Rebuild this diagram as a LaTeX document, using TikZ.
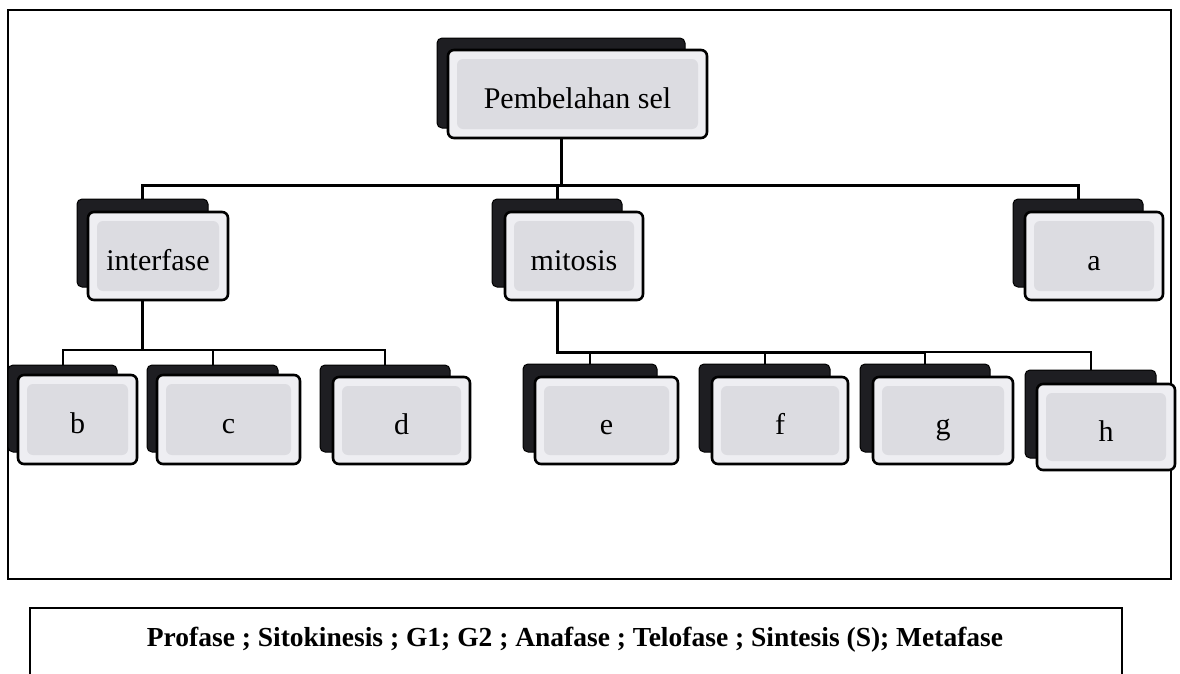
\documentclass[tikz,border=0pt]{standalone}
\usepackage{fontspec}
\setmainfont{Liberation Serif}
\definecolor{shadowc}{HTML}{1E1E22}
\definecolor{outerc}{HTML}{EEEEF2}
\definecolor{innerc}{HTML}{DCDCE1}
\tikzset{
  shadowbox/.style={draw=black, line width=1pt, fill=shadowc, rounded corners=5pt, inner sep=0pt, outer sep=0pt},
  frontbox/.style={draw=black, line width=2.6pt, fill=outerc, rounded corners=6pt, inner sep=0pt, outer sep=0pt,
    font=\fontsize{30}{32}\selectfont, text height=28pt, text depth=0pt,
    path picture={\fill[innerc] ([shift={(9pt,-9pt)}]path picture bounding box.north west) rectangle ([shift={(-9pt,9pt)}]path picture bounding box.south east);}},
  conn/.style={line width=3pt},
  thinconn/.style={line width=2pt},
  frame/.style={line width=2pt},
  legend/.style={font=\bfseries\fontsize{27.5}{30}\selectfont, inner sep=0pt},
}
\newcommand\cellbox[7]{\node[#6, minimum width={(#4-#2)*1pt}, minimum height={(#5-#3)*1pt}] (#1) at ({(#2+#4)/2},{(#3+#5)/2}) {#7};}
\begin{document}
\begin{tikzpicture}[x=1pt,y=-1pt]
\fill[white] (0,0) rectangle (1180,673);
\useasboundingbox (0,0) rectangle (1180,673);
\draw[frame] (8,10) rectangle (1171,579);
% shadows
\cellbox{rootS}{437}{38}{685}{128}{shadowbox}{}
\cellbox{interS}{77}{199}{208}{287}{shadowbox}{}
\cellbox{mitS}{492}{199}{622}{287}{shadowbox}{}
\cellbox{aS}{1013}{199}{1143}{287}{shadowbox}{}
\cellbox{bS}{8}{365}{117}{452}{shadowbox}{}
\cellbox{cS}{147}{365}{278}{452}{shadowbox}{}
\cellbox{dS}{320}{365}{450}{452}{shadowbox}{}
\cellbox{eS}{523}{364}{657}{452}{shadowbox}{}
\cellbox{fS}{699}{364}{830}{452}{shadowbox}{}
\cellbox{gS}{860}{364}{990}{452}{shadowbox}{}
\cellbox{hS}{1025}{370}{1156}{458}{shadowbox}{}
% fronts
\cellbox{root}{448}{50}{707}{138}{frontbox}{Pembelahan sel}
\cellbox{inter}{88}{212}{228}{300}{frontbox}{interfase}
\cellbox{mit}{505}{212}{643}{300}{frontbox}{mitosis}
\cellbox{a}{1025}{212}{1163}{300}{frontbox}{a}
\cellbox{b}{18}{375}{137}{464}{frontbox}{b}
\cellbox{c}{157}{375}{300}{464}{frontbox}{c}
\cellbox{d}{333}{377}{470}{464}{frontbox}{d}
\cellbox{e}{535}{377}{678}{464}{frontbox}{e}
\cellbox{f}{712}{377}{848}{464}{frontbox}{f}
\cellbox{g}{873}{377}{1013}{464}{frontbox}{g}
\cellbox{h}{1037}{384}{1175}{470}{frontbox}{h}
% bar coordinates
\coordinate (bar1) at (0,185);
\coordinate (bar2) at (0,350);
\coordinate (bar3) at (0,352);
% level 1
\draw[conn] (root.south -| rootS.center) -- (rootS.center |- bar1);
\draw[conn] (interS.north) -- (interS.north |- bar1) -- (aS.north |- bar1) -- (aS.north);
\draw[conn] (mitS.north) -- (mitS.north |- bar1);
% interfase children
\draw[conn] (inter.south -| interS.center) -- (interS.center |- bar2);
\draw[thinconn] (bS.north) -- (bS.north |- bar2) -- (dS.north |- bar2) -- (dS.north);
\draw[thinconn] (cS.north) -- (cS.north |- bar2);
% mitosis children
\draw[conn] (mit.south -| mitS.center) -- (mitS.center |- bar3) -- (gS.north |- bar3);
\draw[thinconn] (gS.north |- bar3) -- (hS.north |- bar3) -- (hS.north);
\draw[thinconn] (eS.north) -- (eS.north |- bar3);
\draw[thinconn] (fS.north) -- (fS.north |- bar3);
\draw[thinconn] (gS.north) -- (gS.north |- bar3);
% legend box
\draw[frame] (30,680) -- (30,608) -- (1122,608) -- (1122,680);
\node[legend] (legendtext) at (575,640) {Profase ; Sitokinesis ; G1; G2 ; Anafase ; Telofase ; Sintesis (S); Metafase};
\end{tikzpicture}
\end{document}
